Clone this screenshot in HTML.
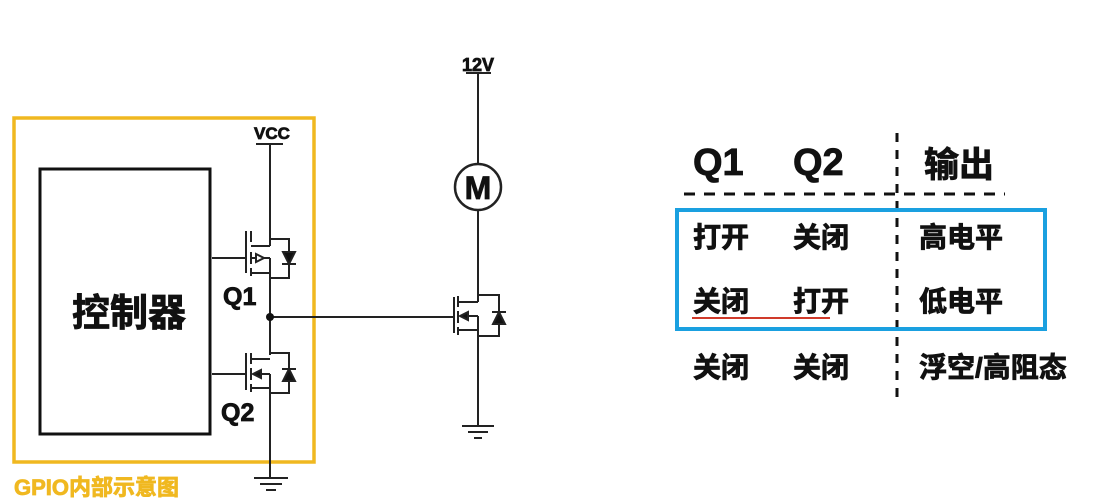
<!DOCTYPE html>
<html><head><meta charset="utf-8"><style>
html,body{margin:0;padding:0;background:#fff;}
svg{display:block}
text{font-family:"Liberation Sans","Noto Sans CJK SC",sans-serif;font-weight:bold;fill:#111;stroke:#111;stroke-width:0.8}
</style></head><body>
<svg width="1098" height="502" viewBox="0 0 1098 502" xmlns="http://www.w3.org/2000/svg">
<g stroke="#222" stroke-width="2" fill="none">
<rect x="14" y="118" width="300" height="344" stroke="#f0b820" stroke-width="3.5"/>
<rect x="40" y="169" width="170" height="265" stroke="#111" stroke-width="3"/>
<line x1="256" y1="144" x2="283" y2="144"/>
<line x1="270" y1="144" x2="270" y2="246"/>
<line x1="212" y1="258" x2="246" y2="258"/>
<line x1="246" y1="231" x2="246" y2="273"/>
<line x1="251" y1="231" x2="251" y2="242"/><line x1="251" y1="252" x2="251" y2="264"/><line x1="251" y1="268" x2="251" y2="276"/>
<line x1="251" y1="246" x2="270" y2="246"/>
<line x1="251" y1="273" x2="270" y2="273"/>
<line x1="251" y1="258" x2="270" y2="258"/><line x1="270" y1="258" x2="270" y2="273"/>
<polygon points="256,254 256,262 264,258" fill="#fff"/>
<polyline points="270,239 289,239 289,278 270,278"/>
<line x1="270" y1="273" x2="270" y2="355"/>
<line x1="282" y1="264" x2="296" y2="264"/>
<polygon points="283,252 295,252 289,264" fill="#111"/>
<line x1="270" y1="317" x2="454" y2="317"/>
<line x1="212" y1="374" x2="246" y2="374"/>
<line x1="246" y1="353" x2="246" y2="390"/>
<line x1="251" y1="353" x2="251" y2="364"/><line x1="251" y1="368" x2="251" y2="380"/><line x1="251" y1="384" x2="251" y2="392"/>
<line x1="251" y1="359" x2="270" y2="359"/>
<line x1="251" y1="388" x2="270" y2="388"/>
<line x1="255" y1="374" x2="270" y2="374"/><line x1="270" y1="374" x2="270" y2="388"/>
<polygon points="253,374 261,370 261,378" fill="#111"/>
<polyline points="270,353 289,353 289,393 270,393"/>
<line x1="270" y1="388" x2="270" y2="478"/>
<line x1="282" y1="369" x2="296" y2="369"/>
<polygon points="283,381 295,381 289,369" fill="#111"/>
<line x1="254" y1="478" x2="288" y2="478"/><line x1="260" y1="484" x2="282" y2="484"/><line x1="266" y1="490" x2="276" y2="490"/>
<line x1="466" y1="73" x2="491" y2="73"/>
<line x1="478" y1="73" x2="478" y2="164"/>
<circle cx="478" cy="187" r="23" stroke-width="2.5"/>
<line x1="478" y1="210" x2="478" y2="302"/>
<line x1="454" y1="297" x2="454" y2="333"/>
<line x1="458" y1="296" x2="458" y2="307"/><line x1="458" y1="311" x2="458" y2="323"/><line x1="458" y1="327" x2="458" y2="335"/>
<line x1="458" y1="302" x2="478" y2="302"/>
<line x1="458" y1="330" x2="478" y2="330"/>
<line x1="462" y1="316" x2="478" y2="316"/><line x1="478" y1="316" x2="478" y2="330"/>
<polygon points="460,316 468,312 468,320" fill="#111"/>
<polyline points="478,295 499,295 499,336 478,336"/>
<line x1="492" y1="312" x2="506" y2="312"/>
<polygon points="493,324 505,324 499,312" fill="#111"/>
<line x1="478" y1="330" x2="478" y2="426"/>
<line x1="462" y1="426" x2="494" y2="426"/><line x1="468" y1="432" x2="488" y2="432"/><line x1="474" y1="438" x2="482" y2="438"/>
<line x1="897" y1="133" x2="897" y2="405" stroke="#111" stroke-width="3" stroke-dasharray="9,8"/>
<line x1="684" y1="194" x2="1005" y2="194" stroke="#111" stroke-width="3" stroke-dasharray="11,9"/>
<rect x="677" y="210" width="368" height="119" stroke="#1aa0e0" stroke-width="4"/>
<line x1="692" y1="318" x2="830" y2="318" stroke="#d03a2a" stroke-width="2"/>
</g>
<circle cx="270" cy="317" r="4" fill="#111"/>
<text x="272" y="139" font-size="17" text-anchor="middle">VCC</text>
<text x="478" y="71" font-size="18" text-anchor="middle">12V</text>
<text x="478" y="199" font-size="32" text-anchor="middle" stroke-width="1.2">M</text>
<text x="223" y="305" font-size="25" stroke-width="1.2">Q1</text>
<text x="221" y="421" font-size="25" stroke-width="1.2">Q2</text>
<text x="129" y="326" font-size="38" text-anchor="middle" stroke-width="1">控制器</text>
<text x="14" y="495" font-size="22" style="fill:#f0b820;stroke:#f0b820">GPIO内部示意图</text>
<text x="693" y="175" font-size="38" stroke-width="2">Q1</text>
<text x="793" y="175" font-size="38" stroke-width="2">Q2</text>
<text x="924" y="177" font-size="35" stroke-width="1.2">输出</text>
<g font-size="28">
<text x="693" y="247">打开</text><text x="793" y="247">关闭</text><text x="919" y="247">高电平</text>
<text x="693" y="311">关闭</text><text x="793" y="311">打开</text><text x="919" y="311">低电平</text>
<text x="693" y="377">关闭</text><text x="793" y="377">关闭</text><text x="919" y="377">浮空/高阻态</text>
</g>
</svg>
</body></html>
